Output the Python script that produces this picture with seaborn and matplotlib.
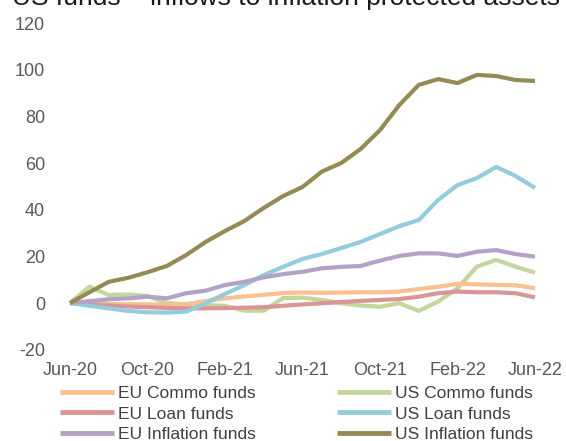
import pandas as pd
import numpy as np
import matplotlib
matplotlib.use('Agg')
import matplotlib.pyplot as plt
import seaborn as sns

sns.set_style('white')
plt.rcParams['font.family'] = ['Liberation Sans', 'DejaVu Sans']
plt.rcParams['axes.unicode_minus'] = False

#%% Data (cumulative inflows)
months = ['Jun-20', 'Jul-20', 'Aug-20', 'Sep-20', 'Oct-20', 'Nov-20', 'Dec-20',
          'Jan-21', 'Feb-21', 'Mar-21', 'Apr-21', 'May-21', 'Jun-21', 'Jul-21',
          'Aug-21', 'Sep-21', 'Oct-21', 'Nov-21', 'Dec-21', 'Jan-22', 'Feb-22',
          'Mar-22', 'Apr-22', 'May-22', 'Jun-22']

eu_commo = [0, -0.2, -0.4, -0.5, -0.6, -0.7, -0.5, 0.8, 2.0, 2.8, 3.5, 4.3, 4.5,
            4.4, 4.5, 4.6, 4.6, 4.9, 6.0, 7.0, 8.2, 8.0, 7.8, 7.6, 6.3]
us_commo = [0, 7.0, 3.4, 3.7, 3.0, 0, -0.6, -0.9, -1.2, -3.3, -3.3, 2.1, 2.3,
            1.3, -0.1, -1.1, -1.6, -0.1, -3.4, 0.6, 6.3, 15.6, 18.5, 15.6, 13.0]
eu_loan = [0, -0.6, -1.1, -1.5, -1.8, -2.1, -2.3, -2.3, -2.2, -2.0, -1.8, -1.2,
           -0.6, -0.1, 0.4, 0.9, 1.3, 1.7, 2.7, 4.2, 4.9, 4.6, 4.6, 4.2, 2.4]
us_loan = [0, -1.2, -2.3, -3.4, -4.0, -4.1, -3.7, -0.1, 3.9, 7.7, 12.0, 15.5,
           18.9, 21.0, 23.6, 26.2, 29.6, 33.0, 35.6, 44.2, 50.6, 53.6, 58.4,
           54.5, 49.4]
eu_infl = [0, 0.8, 1.6, 2.0, 2.7, 2.0, 4.2, 5.3, 7.7, 9.1, 11.0, 12.4, 13.4,
           14.9, 15.5, 15.9, 18.2, 20.2, 21.3, 21.3, 20.2, 22.0, 22.7, 21.0, 19.9]
us_infl = [0, 4.6, 9.1, 10.8, 13.2, 15.9, 20.6, 26.2, 30.9, 35.2, 40.8, 45.9,
           49.8, 56.4, 60.1, 66.1, 74.2, 85.0, 93.6, 96.1, 94.4, 97.9, 97.4,
           95.7, 95.3]

series = {'EU Commo funds': eu_commo, 'US Commo funds': us_commo,
          'EU Loan funds': eu_loan, 'US Loan funds': us_loan,
          'EU Inflation funds': eu_infl, 'US Inflation funds': us_infl}

colors = {'EU Commo funds': '#FAC090',
          'US Commo funds': '#C3D69B',
          'EU Loan funds': '#D99694',
          'US Loan funds': '#93CDDD',
          'EU Inflation funds': '#B3A2C7',
          'US Inflation funds': '#948A54'}

draw_order = ['US Commo funds', 'EU Commo funds', 'EU Loan funds',
              'US Loan funds', 'EU Inflation funds', 'US Inflation funds']
legend_order = ['EU Commo funds', 'EU Loan funds', 'EU Inflation funds',
                'US Commo funds', 'US Loan funds', 'US Inflation funds']

df = pd.DataFrame({'month': np.arange(len(months))})
for name, vals in series.items():
    df[name] = vals
long = df.melt(id_vars='month', var_name='series', value_name='flow')

#%% Plot
fig = plt.figure(figsize=(5.66, 4.41), dpi=100)
ax = fig.add_axes([70/566, 1-349.6/441, 465/566, 326.2/441])

sns.lineplot(data=long, x='month', y='flow', hue='series',
             hue_order=draw_order, palette=colors, lw=3, ax=ax)
for ln in ax.lines:
    ln.set_clip_on(False)
    ln.set_solid_capstyle('butt')

handles, labels = ax.get_legend_handles_labels()
ax.get_legend().remove()
hmap = dict(zip(labels, handles))

ax.set_xlim(0, len(months)-1)
ax.set_ylim(-20, 120)
ax.set_yticks(range(-20, 121, 20))
ax.set_xticks(range(0, len(months), 4))
ax.set_xticklabels(months[::4])
ax.set_xlabel('')
ax.set_ylabel('')
sns.despine(ax=ax, left=True, bottom=True)
ax.tick_params(axis='x', length=0, pad=9, labelsize=13, colors='#595959')
ax.tick_params(axis='y', length=0, pad=18, labelsize=13, colors='#595959')

leg = fig.legend([hmap[l] for l in legend_order], legend_order, ncol=2,
                 loc='upper left', bbox_to_anchor=(60/566, 1-386/441),
                 frameon=False, fontsize=12.5, handlelength=3.1,
                 handletextpad=0.23, columnspacing=4.7, labelspacing=0.3,
                 borderpad=0, borderaxespad=0)
for t in leg.get_texts():
    t.set_color('#404040')
for h in leg.legend_handles:
    h.set_linewidth(3.5)

fig.text(12/566, 1-5/441, 'US funds \u2013 inflows to inflation protected assets',
         fontsize=19, color='#1a1a1a', va='baseline', ha='left')

plt.savefig('out.png', dpi=100)
